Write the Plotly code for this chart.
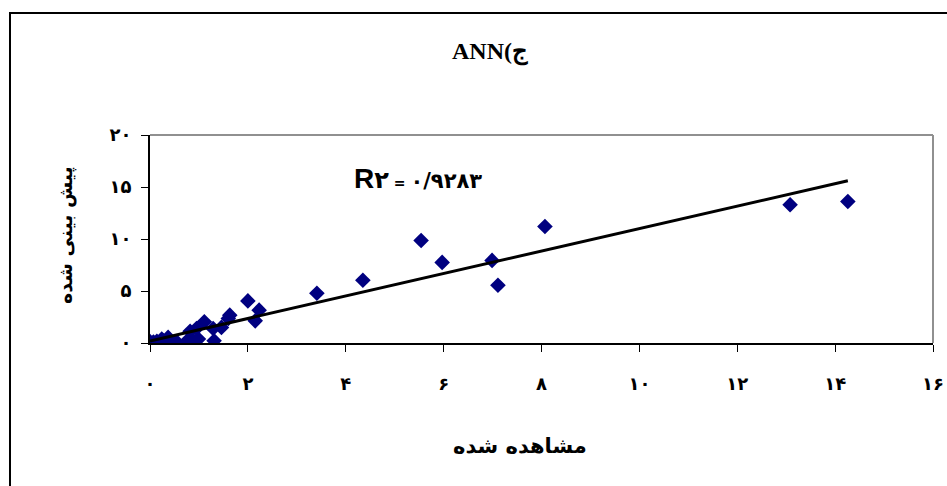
import plotly.graph_objects as go
import numpy as np

# Observed (مشاهده شده) and predicted (پیش بینی شده) values
observed = [0.0, 0.07, 0.14, 0.24, 0.27, 0.37, 0.44, 0.54, 0.76, 0.82, 0.85, 0.95, 0.99,
            1.11, 1.29, 1.31, 1.46, 1.60, 1.63, 2.00, 2.15, 2.23, 3.41, 4.35,
            5.54, 5.97, 6.99, 7.11, 8.07, 13.08, 14.26]
predicted = [0.13, 0.10, 0.16, 0.38, 0.22, 0.54, 0.10, 0.13, 0.22, 1.12, 0.38, 1.40, 0.38,
             2.04, 1.40, 0.22, 1.50, 2.36, 2.68, 4.05, 2.13, 3.16, 4.78, 6.03,
             9.86, 7.75, 7.94, 5.55, 11.20, 13.30, 13.60]

trend_slope = 1.08
trend_intercept = 0.2

x_tick_vals = [0, 2, 4, 6, 8, 10, 12, 14, 16]
x_tick_text = ["۰", "۲", "۴", "۶", "۸", "۱۰", "۱۲", "۱۴", "۱۶"]
y_tick_vals = [0, 5, 10, 15, 20]
y_tick_text = ["۰", "۵", "۱۰", "۱۵", "۲۰"]

title_text = "ANN(ج"
x_title = "مشاهده شده"
y_title = "پیش بینی شده"
r2_value = "۰/۹۲۸۳"

W, H = 947, 486
L, R, T, B = 150, 14, 135, 143
pw, ph = W - L - R, H - T - B

def px(xp):
    return (xp - L) / pw

def py(yp):
    return (H - B - yp) / ph

fig = go.Figure()

fig.add_trace(go.Scatter(
    x=observed, y=predicted, mode="markers",
    marker=dict(symbol="diamond", size=12, color="#000080", line=dict(width=0)),
    showlegend=False, hoverinfo="x+y"))

tx = np.array([min(observed), max(observed)])
fig.add_trace(go.Scatter(
    x=tx, y=trend_slope * tx + trend_intercept, mode="lines",
    line=dict(color="black", width=3), showlegend=False, hoverinfo="skip"))

font_fam = "DejaVu Sans, sans-serif"

frame_path = "M {:.5f},{:.5f} L {:.5f},{:.5f} L {:.5f},{:.5f}".format(
    px(10), py(520), px(10), py(13), px(1000), py(13))

fig.update_layout(
    width=W, height=H,
    margin=dict(l=L, r=R, t=T, b=B, autoexpand=False),
    paper_bgcolor="white", plot_bgcolor="white",
    xaxis=dict(range=[0, 16], tickvals=x_tick_vals, ticktext=x_tick_text,
               showgrid=False, zeroline=False, showline=True, linecolor="black",
               linewidth=2, ticks="outside", ticklen=7, tickwidth=1, tickcolor="black",
               ticklabelstandoff=16,
               tickfont=dict(family=font_fam, size=18, color="black", weight="bold"),
               fixedrange=True),
    yaxis=dict(range=[0, 20], tickvals=y_tick_vals, ticktext=y_tick_text,
               showgrid=False, zeroline=False, showline=True, linecolor="black",
               linewidth=2, ticks="outside", ticklen=7, tickwidth=1, tickcolor="black",
               ticklabelstandoff=6,
               tickfont=dict(family=font_fam, size=18, color="black", weight="bold"),
               fixedrange=True),
    shapes=[
        dict(type="line", xref="paper", yref="paper", x0=0, x1=1, y0=1, y1=1,
             line=dict(color="#909090", width=2)),
        dict(type="line", xref="paper", yref="paper", x0=1, x1=1, y0=0, y1=1,
             line=dict(color="#909090", width=2)),
        dict(type="path", xref="paper", yref="paper", path=frame_path,
             line=dict(color="black", width=2)),
    ],
    annotations=[
        dict(text="<b>" + title_text + "</b>", xref="paper", yref="paper",
             x=px(490), y=py(52), xanchor="center", yanchor="middle", showarrow=False,
             font=dict(family="Liberation Serif, DejaVu Serif, serif", size=24, color="black")),
        dict(text="<b>" + x_title + "</b>", xref="paper", yref="paper",
             x=px(520), y=py(446), xanchor="center", yanchor="middle", showarrow=False,
             font=dict(family=font_fam, size=21, color="black")),
        dict(text="<b>" + y_title + "</b>", xref="paper", yref="paper",
             x=px(65), y=py(235), xanchor="center", yanchor="middle", showarrow=False,
             textangle=-90,
             font=dict(family=font_fam, size=19, color="black")),
        dict(text="<b><span style='font-family:Liberation Sans;font-size:28px'>R</span>"
                  "<span style='font-size:24px'>۲</span> = "
                  "<span style='font-size:21px'>" + r2_value + "</span></b>",
             xref="paper", yref="paper",
             x=px(352), y=py(178), xanchor="left", yanchor="middle", showarrow=False,
             font=dict(family=font_fam, size=14, color="black")),
    ],
)

fig.write_html("out.html", config={"displayModeBar": False},
               post_script="document.body.style.margin='0px';"
                           "document.body.style.overflow='hidden';"
                           "document.documentElement.style.overflow='hidden';")
